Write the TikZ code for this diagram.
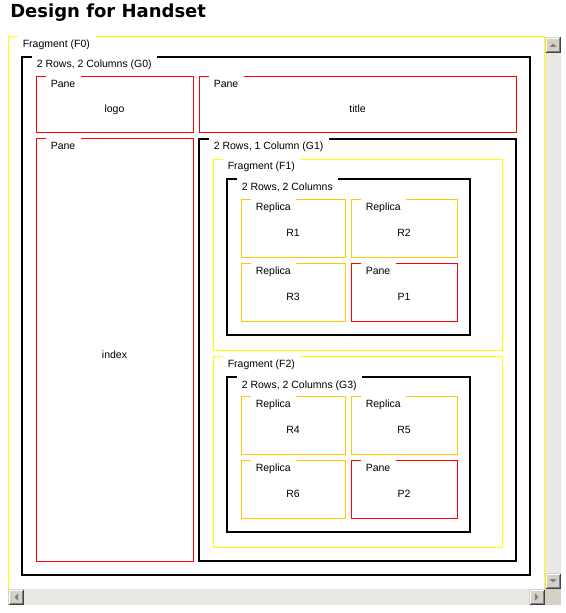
\documentclass[tikz,border=0pt]{standalone}
\usepackage{fontspec}
\setmainfont{Liberation Sans}
\newfontfamily\titlefont{DejaVu Sans}
\usetikzlibrary{calc}
\definecolor{paneRed}{HTML}{FF0000}
\definecolor{fragYellow}{HTML}{FFFF00}
\definecolor{replGold}{HTML}{FFC800}
\definecolor{btnFace}{HTML}{D4D0C8}
\definecolor{btnDark}{HTML}{808080}
\definecolor{btnDarker}{HTML}{404040}
\definecolor{trackGray}{HTML}{EAE8E4}
\tikzset{
  lbl/.style={font=\fontsize{7.875}{9}\selectfont, inner sep=0pt, anchor=base west},
  content/.style={font=\fontsize{7.875}{9}\selectfont, inner sep=0pt, anchor=base},
  gridline/.style={draw=black, line width=1.5pt},
  paneline/.style={draw=paneRed, line width=0.75pt},
  fragline/.style={draw=fragYellow, line width=0.75pt},
  replline/.style={draw=replGold, line width=0.75pt},
}
% #1 name, #2 style, #3 left, #4 top, #5 right, #6 bottom, #7 label, #8 content
\newcommand\legendbox[8]{%
  \coordinate (#1-tl) at (#3,#4);
  \coordinate (#1-br) at (#5,#6);
  \node[lbl] (#1-l) at (#3+14.5,#4+11) {#7};
  \coordinate (#1-g) at ($(#1-l.east)+(5,0)$);
  \draw[#2, line join=miter] ($(#1-tl)+(10,0)$) -- (#1-tl) -- (#1-tl |- #1-br) -- (#1-br) -- (#1-br |- #1-tl) -- (#1-g |- #1-tl);
  \node[content] (#1) at ($(#1-tl)!0.5!(#1-br)+(0,8)$) {#8};
}
% #1 x, #2 y, #3 rotation of the arrow
\newcommand\sbbutton[3]{%
  \fill[btnFace] (#1,#2) rectangle ++(16,16);
  \draw[white, line width=0.75pt] (#1+1.5,#2+14.5) -- (#1+1.5,#2+1.5) -- (#1+14.5,#2+1.5);
  \draw[btnDark, line width=0.75pt] (#1+1.5,#2+14.5) -- (#1+14.5,#2+14.5) -- (#1+14.5,#2+1.5);
  \draw[btnDarker, line width=0.75pt] (#1+0.5,#2+15.5) -- (#1+15.5,#2+15.5) -- (#1+15.5,#2+0.5);
  \fill[btnDark, rotate around={#3:(#1+8,#2+8)}] (#1+4.5,#2+10) -- (#1+11.5,#2+10) -- (#1+8,#2+6.5) -- cycle;
}
\begin{document}
\begin{tikzpicture}[x=0.75pt, y=-0.75pt]
\useasboundingbox (0,0) rectangle (565,613);
\fill[white] (0,0) rectangle (565,613);
\node[font=\titlefont\bfseries\fontsize{13.5}{16}\selectfont, anchor=base west, inner sep=0pt] (heading) at (10,17.5) {Design for Handset};

\legendbox{F0}{fragline}{8}{37}{544}{589}{Fragment (F0)}{}
\legendbox{G0}{gridline}{22}{57}{530}{575}{2 Rows, 2 Columns (G0)}{}
\legendbox{logo}{paneline}{36}{77}{193}{133}{Pane}{logo}
\legendbox{titlepane}{paneline}{199}{77}{516}{133}{Pane}{title}
\legendbox{index}{paneline}{36}{139}{193}{561}{Pane}{index}
\legendbox{G1}{gridline}{199}{139}{516}{561}{2 Rows, 1 Column (G1)}{}
\legendbox{F1}{fragline}{213}{159}{502}{350}{Fragment (F1)}{}
\legendbox{G2}{gridline}{227}{179}{470}{335}{2 Rows, 2 Columns}{}
\legendbox{R1}{replline}{241}{199}{345}{257}{Replica}{R1}
\legendbox{R2}{replline}{351}{199}{457}{257}{Replica}{R2}
\legendbox{R3}{replline}{241}{263}{345}{321}{Replica}{R3}
\legendbox{P1}{paneline}{351}{263}{457}{321}{Pane}{P1}
\legendbox{F2}{fragline}{213}{356}{502}{547}{Fragment (F2)}{}
\legendbox{G3}{gridline}{227}{377}{470}{532}{2 Rows, 2 Columns (G3)}{}
\legendbox{R4}{replline}{241}{396}{345}{454}{Replica}{R4}
\legendbox{R5}{replline}{351}{396}{457}{454}{Replica}{R5}
\legendbox{R6}{replline}{241}{460}{345}{518}{Replica}{R6}
\legendbox{P2}{paneline}{351}{460}{457}{518}{Pane}{P2}

% scrollbars
\fill[trackGray] (545,37) rectangle (561,589);
\fill[trackGray] (8,589) rectangle (545,605);
\fill[btnFace] (545,589) rectangle (561,605);
\sbbutton{545}{37}{0}
\sbbutton{545}{573}{180}
\sbbutton{8}{589}{90}
\sbbutton{529}{589}{-90}
\end{tikzpicture}
\end{document}
